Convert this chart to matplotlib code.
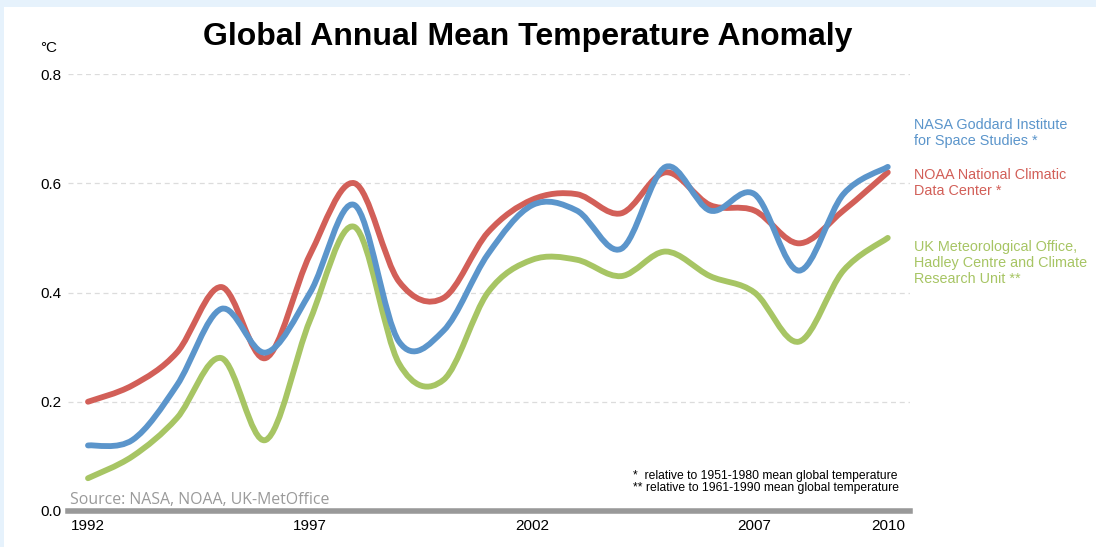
import numpy as np
import matplotlib.pyplot as plt
from matplotlib.path import Path
from matplotlib.patches import PathPatch, Rectangle

years = list(range(1992, 2011))
nasa = [0.12, 0.13, 0.23, 0.37, 0.29, 0.40, 0.56, 0.31, 0.33, 0.47,
        0.56, 0.55, 0.48, 0.63, 0.55, 0.58, 0.44, 0.58, 0.63]
noaa = [0.20, 0.23, 0.29, 0.41, 0.28, 0.47, 0.60, 0.42, 0.39, 0.51,
        0.57, 0.58, 0.545, 0.62, 0.56, 0.55, 0.49, 0.55, 0.62]
ukmo = [0.06, 0.10, 0.17, 0.28, 0.13, 0.35, 0.52, 0.27, 0.24, 0.40,
        0.46, 0.46, 0.43, 0.475, 0.43, 0.40, 0.31, 0.44, 0.50]

series_names = ["NASA Goddard Institute\nfor Space Studies *",
                "NOAA National Climatic\nData Center *",
                "UK Meteorological Office,\nHadley Centre and Climate\nResearch Unit **"]
x_ticks = [1992, 1997, 2002, 2007, 2010]
y_ticks = [0.0, 0.2, 0.4, 0.6, 0.8]

blue = "#5b95cb"
red = "#d25f58"
green = "#a7c564"


def smooth_path(xs, ys, t=1 / 6):
    # catmull-rom style bezier through the data points (like excel's smooth line)
    xs = np.asarray(xs, float)
    ys = np.asarray(ys, float)
    n = len(xs)
    verts = [(xs[0], ys[0])]
    codes = [Path.MOVETO]
    for i in range(n - 1):
        p0 = i - 1 if i > 0 else i
        p3 = i + 2 if i + 2 < n else i + 1
        c1 = (xs[i] + (xs[i + 1] - xs[p0]) * t, ys[i] + (ys[i + 1] - ys[p0]) * t)
        c2 = (xs[i + 1] - (xs[p3] - xs[i]) * t, ys[i + 1] - (ys[p3] - ys[i]) * t)
        verts += [c1, c2, (xs[i + 1], ys[i + 1])]
        codes += [Path.CURVE4] * 3
    return Path(verts, codes)


fig = plt.figure(figsize=(10.96, 5.47), dpi=100)
fig.patch.set_facecolor("#e6f2fc")
fig.patches.append(Rectangle((4 / 1096, 0), 1, 1 - 7 / 547, transform=fig.transFigure,
                             facecolor="white", edgecolor="none", zorder=-5))

ax = fig.add_axes([68 / 1096, 36 / 547, 842 / 1096, 437 / 547])
ax.set_zorder(2)
ax.set_facecolor("none")
ax.set_xlim(1991.55, 2010.5)
ax.set_ylim(0, 0.8)

for yv in y_ticks[1:]:
    ax.axhline(yv, color="#dcdcdc", lw=0.9, ls=(0, (4, 3)), zorder=1)

for vals, col in [(ukmo, green), (noaa, red), (nasa, blue)]:
    ax.add_patch(PathPatch(smooth_path(years, vals), facecolor="none", edgecolor=col,
                           lw=4.2, capstyle="round", joinstyle="round", zorder=3))

for sp in ax.spines.values():
    sp.set_visible(False)
ax.axhline(0, color="#999999", lw=4, zorder=2, clip_on=False)

ax.set_yticks(y_ticks)
ax.set_yticklabels([f"{v:.1f}" for v in y_ticks], fontsize=11, family="Liberation Sans")
ax.set_xticks(x_ticks)
ax.set_xticklabels([str(v) for v in x_ticks], fontsize=11, family="Liberation Sans")
ax.tick_params(length=0, pad=6)
ax.tick_params(axis="y", pad=5)

fig.text(40 / 1096, 1 - 48 / 547, "°C", fontsize=11, family="Liberation Sans", va="center")
fig.text(528 / 1096, 1 - 37 / 547, "Global Annual Mean Temperature Anomaly",
         fontsize=23, fontweight="bold", family="Liberation Sans", ha="center", va="center")

legend_y = [118, 168, 240]
for name, col, yp in zip(series_names, [blue, red, green], legend_y):
    fig.text(914 / 1096, 1 - yp / 547, name, color=col, fontsize=10.4,
             family="Liberation Sans", va="top", linespacing=1.2)

ax.text(1991.6, 0.006, "Source: NASA, NOAA, UK-MetOffice", color="#9a9a9a",
        fontsize=11.4, family="Open Sans", va="bottom", ha="left")
fig.text(633 / 1096, 1 - 470 / 547,
         "*  relative to 1951-1980 mean global temperature\n"
         "** relative to 1961-1990 mean global temperature",
         fontsize=8.7, family="Liberation Sans", va="top", linespacing=0.95)

fig.savefig("out.png", dpi=100)
